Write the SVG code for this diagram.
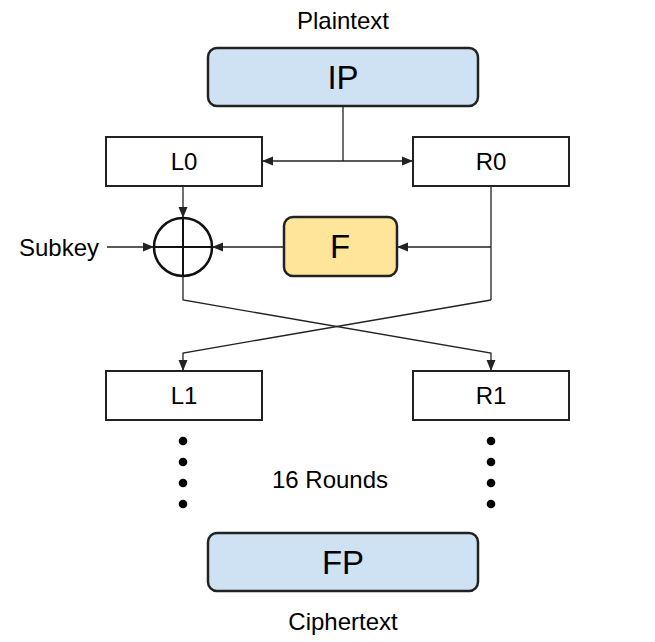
<svg xmlns="http://www.w3.org/2000/svg" width="655" height="642" viewBox="0 0 655 642">
<style>
text{font-family:"Liberation Sans",Arial,sans-serif;fill:#000;text-anchor:middle}
.lbl{font-size:24px}
.big{font-size:33px}
.box{fill:#fff;stroke:#222;stroke-width:2}
.rbox{stroke:#222;stroke-width:2.5}
.ln{fill:none;stroke:#222;stroke-width:1.3}
</style>
<defs>
<marker id="ah" viewBox="0 0 11 10" refX="11" refY="5" markerWidth="11" markerHeight="10" markerUnits="userSpaceOnUse" orient="auto">
<path d="M0,0.5 L11,5 L0,9.5 Z" fill="#222"/>
</marker>
</defs>
<rect width="655" height="642" fill="#fff"/>
<text class="lbl" x="343" y="29">Plaintext</text>
<text class="lbl" x="343" y="630">Ciphertext</text>
<text class="lbl" x="59" y="256">Subkey</text>
<text class="lbl" x="330" y="488">16 Rounds</text>
<g id="connectors">
<path class="ln" d="M343,106 V161"/>
<path class="ln" d="M343,161 H262" marker-end="url(#ah)"/>
<path class="ln" d="M343,161 H413" marker-end="url(#ah)"/>
<path class="ln" d="M183,186 V218" marker-end="url(#ah)"/>
<path class="ln" d="M107,247 H154" marker-end="url(#ah)"/>
<path class="ln" d="M284,247 H212" marker-end="url(#ah)"/>
<path class="ln" d="M491,186 V300"/>
<path class="ln" d="M491,247 H397" marker-end="url(#ah)"/>
<path class="ln" d="M183,276 V300 L491,353 V371" marker-end="url(#ah)"/>
<path class="ln" d="M491,300 L183,353 V371" marker-end="url(#ah)"/>
</g>
<g id="IP"><rect class="rbox" x="208" y="48" width="270" height="58" rx="9" fill="#cfe2f3"/><text class="big" x="343" y="89">IP</text></g>
<g id="L0"><rect class="box" x="106" y="137" width="156" height="49"/><text class="lbl" x="184" y="170">L0</text></g>
<g id="R0"><rect class="box" x="413" y="137" width="156" height="49"/><text class="lbl" x="491" y="170">R0</text></g>
<g id="XOR"><circle cx="183" cy="247" r="29" fill="none" stroke="#111" stroke-width="2.5"/><path d="M154,247 H212 M183,218 V276" stroke="#111" stroke-width="2" fill="none"/></g>
<g id="F"><rect class="rbox" x="284" y="217" width="113" height="59" rx="9" fill="#ffe599"/><text class="big" x="340" y="258">F</text></g>
<g id="L1"><rect class="box" x="106" y="371" width="156" height="49"/><text class="lbl" x="184" y="404">L1</text></g>
<g id="R1"><rect class="box" x="413" y="371" width="156" height="49"/><text class="lbl" x="491" y="404">R1</text></g>
<g id="dotsL" fill="#000"><circle cx="183" cy="441" r="4.3"/><circle cx="183" cy="462" r="4.3"/><circle cx="183" cy="483" r="4.3"/><circle cx="183" cy="504" r="4.3"/></g>
<g id="dotsR" fill="#000"><circle cx="491" cy="441" r="4.3"/><circle cx="491" cy="462" r="4.3"/><circle cx="491" cy="483" r="4.3"/><circle cx="491" cy="504" r="4.3"/></g>
<g id="FP"><rect class="rbox" x="208" y="533" width="270" height="58" rx="9" fill="#cfe2f3"/><text class="big" x="343" y="574">FP</text></g>
</svg>
